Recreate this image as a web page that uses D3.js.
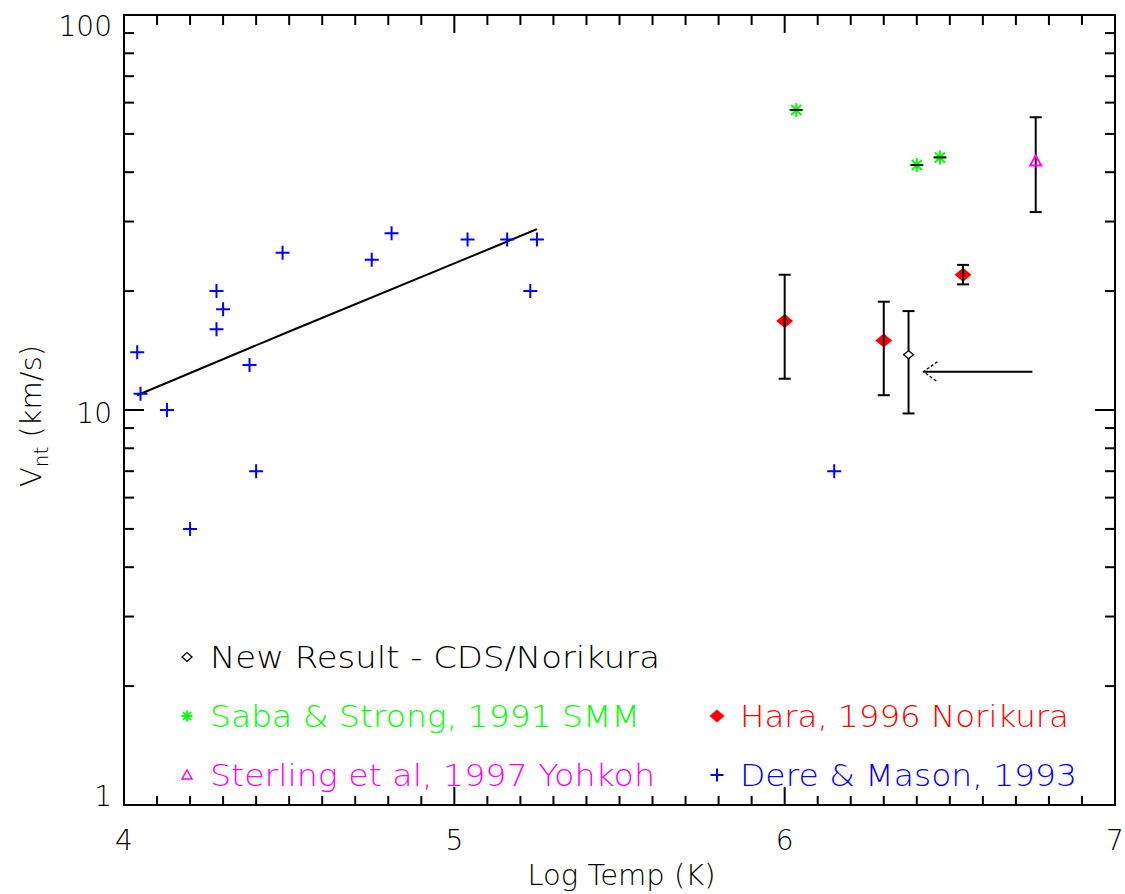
<!DOCTYPE html>
<html>
<head>
<meta charset="utf-8">
<script src="https://cdn.jsdelivr.net/npm/d3@7"></script>
<style>
  html, body { margin: 0; padding: 0; background: #fff; }
  text { font-family: "DejaVu Sans", sans-serif; font-weight: 200; }
</style>
</head>
<body>
<div id="chart"></div>
<script>
const width = 1125;
const height = 894;
const margin = { top: 15, right: 9, bottom: 89, left: 124 };

// Dere & Mason, 1993 (blue plus)
const dereT = [4.04, 4.05, 4.13, 4.20, 4.28, 4.30, 4.28, 4.38, 4.40, 4.48, 4.75, 4.81, 5.04, 5.16, 5.23, 5.25, 6.15];
const dereV = [14, 11, 10, 5, 20, 18, 16, 13, 7, 25, 24, 28, 27, 27, 20, 27, 7];
// fit line through the transition region points
const fitT = [4.04, 4.5, 5.0, 5.25];
const fitV = [10.9, 15.8, 23.5, 28.7];
// Saba & Strong, 1991 SMM (green asterisk)
const sabaT = [6.035, 6.40, 6.47];
const sabaV = [57.5, 41.7, 43.6];
// Sterling et al, 1997 Yohkoh (magenta triangle)
const sterlingT = [6.76];
const sterlingV = [42.7];
const sterlingLo = [31.7];
const sterlingHi = [55.1];
// Hara, 1996 Norikura (red diamond)
const haraT = [6.0, 6.3, 6.54];
const haraV = [16.8, 15.0, 22.0];
const haraLo = [12.0, 10.9, 20.8];
const haraHi = [22.0, 18.8, 23.3];
// New Result - CDS/Norikura (open diamond)
const newT = [6.375];
const newV = [13.8];
const newLo = [9.8];
const newHi = [17.8];
// arrow pointing at the new result
const arrowT = [6.75, 6.42];
const arrowV = [12.5, 12.5];

const xTicks = [4, 5, 6, 7];
const yTicks = [1, 10, 100];

const legendLabels = ["New Result - CDS/Norikura", "Saba & Strong, 1991 SMM", "Sterling et al, 1997 Yohkoh",
    "Hara, 1996 Norikura", "Dere & Mason, 1993"];
const legendColors = ["#000000", "#00ff00", "#ff00ff", "#ff0000", "#0000ff"];

const svg = d3.select("#chart").append("svg")
    .attr("width", width)
    .attr("height", height);

const x = d3.scaleLinear().domain([4, 7]).range([margin.left, width - margin.right - 1]);
const y = d3.scaleLog().domain([1, 100]).range([height - margin.bottom, margin.top]);

const zip = (a, b) => a.map((d, i) => [d, b[i]]);

// symbols
const plusPath = (s) => `M${-s},0H${s}M0,${-s}V${s}`;
const starPath = (s) => {
    const d = s * 0.72;
    return `M${-s},0H${s}M0,${-s}V${s}M${-d},${-d}L${d},${d}M${-d},${d}L${d},${-d}`;
};
const trianglePath = (s) => `M0,${-s}L${s},${s * 0.8}L${-s},${s * 0.8}Z`;
const diamondPath = (w, h) => `M0,${-h}L${w},0L0,${h}L${-w},0Z`;

// frame with ticks
const frame = svg.append("g").attr("stroke", "#000").attr("stroke-width", 2).attr("fill", "none");
frame.append("rect")
    .attr("x", x(4)).attr("y", y(100))
    .attr("width", x(7) - x(4)).attr("height", y(1) - y(100));

const xMinor = d3.range(41, 70).map((d) => d / 10).filter((d) => !xTicks.includes(d));
xMinor.forEach((t) => {
    frame.append("line").attr("x1", x(t)).attr("x2", x(t)).attr("y1", y(1)).attr("y2", y(1) - 9);
    frame.append("line").attr("x1", x(t)).attr("x2", x(t)).attr("y1", y(100)).attr("y2", y(100) + 10);
});
xTicks.forEach((t) => {
    frame.append("line").attr("x1", x(t)).attr("x2", x(t)).attr("y1", y(1)).attr("y2", y(1) - 18);
    frame.append("line").attr("x1", x(t)).attr("x2", x(t)).attr("y1", y(100)).attr("y2", y(100) + 18);
});
const yMinor = [];
[1, 10].forEach((dec) => { for (let k = 2; k <= 9; k++) yMinor.push(dec * k); });
yMinor.forEach((v) => {
    frame.append("line").attr("x1", x(4)).attr("x2", x(4) + 10).attr("y1", y(v)).attr("y2", y(v));
    frame.append("line").attr("x1", x(7)).attr("x2", x(7) - 10).attr("y1", y(v)).attr("y2", y(v));
});
yTicks.forEach((v) => {
    frame.append("line").attr("x1", x(4)).attr("x2", x(4) + 20).attr("y1", y(v)).attr("y2", y(v));
    frame.append("line").attr("x1", x(7)).attr("x2", x(7) - 20).attr("y1", y(v)).attr("y2", y(v));
});

// tick labels
svg.append("g").selectAll("text").data(xTicks).enter().append("text")
    .attr("x", (d) => x(d))
    .attr("y", y(1) + 45)
    .attr("text-anchor", "middle")
    .attr("font-size", 28)
    .text((d) => d);
svg.append("g").selectAll("text").data(yTicks).enter().append("text")
    .attr("x", x(4) - 12)
    .attr("y", (d) => Math.min(Math.max(y(d) + 13, y(100) + 21), y(1) + 1))
    .attr("text-anchor", "end")
    .attr("font-size", 28)
    .text((d) => d);

// axis titles
svg.append("text")
    .attr("x", (x(4) + x(7)) / 2 + 2)
    .attr("y", height - 9)
    .attr("text-anchor", "middle")
    .attr("font-size", 29)
    .text("Log Temp (K)");
const ylab = svg.append("text")
    .attr("transform", `translate(41,${(y(1) + y(100)) / 2 + 6}) rotate(-90)`)
    .attr("text-anchor", "middle")
    .attr("font-size", 29);
ylab.append("tspan").text("V");
ylab.append("tspan").attr("font-size", 20).attr("dy", 7).text("nt");
ylab.append("tspan").attr("dy", -7).text(" (km/s)");

// fit line
svg.append("path")
    .datum(zip(fitT, fitV))
    .attr("fill", "none")
    .attr("stroke", "#000")
    .attr("stroke-width", 2)
    .attr("d", d3.line().x((d) => x(d[0])).y((d) => y(d[1])));

// error bars
function errorBars(ts, lo, hi) {
    const g = svg.append("g").attr("stroke", "#000").attr("stroke-width", 2);
    ts.forEach((t, i) => {
        g.append("line").attr("x1", x(t)).attr("x2", x(t)).attr("y1", y(lo[i])).attr("y2", y(hi[i]));
        g.append("line").attr("x1", x(t) - 6).attr("x2", x(t) + 6).attr("y1", y(lo[i])).attr("y2", y(lo[i]));
        g.append("line").attr("x1", x(t) - 6).attr("x2", x(t) + 6).attr("y1", y(hi[i])).attr("y2", y(hi[i]));
    });
}

// Dere & Mason
svg.append("g").selectAll("path").data(zip(dereT, dereV)).enter().append("path")
    .attr("transform", (d) => `translate(${x(d[0])},${y(d[1])})`)
    .attr("d", plusPath(7))
    .attr("stroke", "#0000ff").attr("stroke-width", 2).attr("fill", "none");

// Saba & Strong
svg.append("g").selectAll("path").data(zip(sabaT, sabaV)).enter().append("path")
    .attr("transform", (d) => `translate(${x(d[0])},${y(d[1])})`)
    .attr("d", starPath(7))
    .attr("stroke", "#00ff00").attr("stroke-width", 2).attr("fill", "none");
svg.append("g").selectAll("line").data(zip(sabaT, sabaV)).enter().append("line")
    .attr("x1", (d) => x(d[0]) - 6).attr("x2", (d) => x(d[0]) + 6)
    .attr("y1", (d) => y(d[1])).attr("y2", (d) => y(d[1]))
    .attr("stroke", "#000").attr("stroke-width", 2);

// Sterling
errorBars(sterlingT, sterlingLo, sterlingHi);
svg.append("g").selectAll("path").data(zip(sterlingT, sterlingV)).enter().append("path")
    .attr("transform", (d) => `translate(${x(d[0])},${y(d[1])})`)
    .attr("d", trianglePath(5.5))
    .attr("stroke", "#ff00ff").attr("stroke-width", 2).attr("fill", "none");

// Hara
svg.append("g").selectAll("path").data(zip(haraT, haraV)).enter().append("path")
    .attr("transform", (d) => `translate(${x(d[0])},${y(d[1])})`)
    .attr("d", diamondPath(8.5, 7))
    .attr("fill", "#ff0000");
errorBars(haraT, haraLo, haraHi);

// New result
errorBars(newT, newLo, newHi);
svg.append("g").selectAll("path").data(zip(newT, newV)).enter().append("path")
    .attr("transform", (d) => `translate(${x(d[0])},${y(d[1])})`)
    .attr("d", diamondPath(5, 4))
    .attr("fill", "#fff").attr("stroke", "#000").attr("stroke-width", 1.2);

// arrow
const tip = [x(arrowT[1]), y(arrowV[1])];
svg.append("line")
    .attr("x1", x(arrowT[0])).attr("y1", y(arrowV[0]))
    .attr("x2", tip[0]).attr("y2", tip[1])
    .attr("stroke", "#000").attr("stroke-width", 2);
svg.append("path")
    .attr("d", `M${tip[0] + 14},${tip[1] - 10}L${tip[0]},${tip[1]}L${tip[0] + 14},${tip[1] + 10}`)
    .attr("fill", "none").attr("stroke", "#000").attr("stroke-width", 1.3)
    .attr("stroke-dasharray", "3,2");

// legend
const legendPos = [[187, 657], [187, 716], [187, 775], [717, 716], [717, 775]];
const legendWidths = [450, 430, 445, 329, 337];
const legendSymbols = [
    (g) => g.append("path").attr("d", diamondPath(5, 4.5)).attr("fill", "none").attr("stroke", "#000").attr("stroke-width", 1.3),
    (g) => g.append("path").attr("d", starPath(5.5)).attr("fill", "none").attr("stroke", "#00ff00").attr("stroke-width", 1.8),
    (g) => g.append("path").attr("d", trianglePath(5)).attr("fill", "none").attr("stroke", "#ff00ff").attr("stroke-width", 1.5),
    (g) => g.append("path").attr("d", diamondPath(7.5, 6.5)).attr("fill", "#ff0000"),
    (g) => g.append("path").attr("d", plusPath(6.5)).attr("fill", "none").attr("stroke", "#0000ff").attr("stroke-width", 2)
];
legendLabels.forEach((label, i) => {
    const g = svg.append("g").attr("transform", `translate(${legendPos[i][0]},${legendPos[i][1]})`);
    legendSymbols[i](g);
    g.append("text")
        .attr("x", 23)
        .attr("y", 11)
        .attr("font-size", 30)
        .attr("fill", legendColors[i])
        .attr("textLength", legendWidths[i])
        .attr("lengthAdjust", "spacingAndGlyphs")
        .text(label);
});
</script>
</body>
</html>
